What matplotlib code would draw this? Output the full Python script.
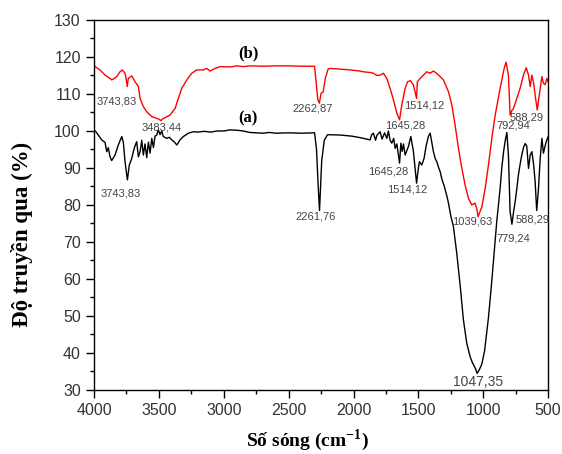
import matplotlib
matplotlib.use("Agg")
import matplotlib.pyplot as plt
from matplotlib.ticker import MultipleLocator

plt.rcParams['font.family'] = ['Liberation Sans', 'DejaVu Sans']
plt.rcParams['mathtext.fontset'] = 'custom'
plt.rcParams['mathtext.rm'] = 'Liberation Serif'
plt.rcParams['mathtext.bf'] = 'Liberation Serif:bold'

# spectrum (a) - wavenumber (cm-1) and transmittance (%)
wn_a = [4000, 3990, 3967, 3941, 3915, 3902, 3890, 3877, 3864, 3850, 3838, 3813,
        3786, 3774, 3761, 3743, 3728, 3709, 3697, 3684, 3671, 3658, 3645, 3632,
        3620, 3607, 3594, 3581, 3568, 3555, 3542, 3530, 3517, 3504, 3491, 3478,
        3466, 3440, 3420, 3401, 3380, 3362, 3337, 3311, 3273, 3234, 3200, 3150,
        3100, 3050, 3000, 2950, 2900, 2850, 2800, 2750, 2700, 2650, 2600, 2500,
        2400, 2300, 2285, 2272, 2262, 2255, 2245, 2225, 2200, 2100, 2013, 1949,
        1900, 1872, 1860, 1847, 1830, 1820, 1795, 1780, 1760, 1743, 1731, 1718,
        1705, 1690, 1679, 1666, 1645, 1635, 1625, 1615, 1602, 1577, 1558, 1538,
        1514, 1500, 1492, 1474, 1456, 1440, 1423, 1409, 1395, 1384, 1370, 1358,
        1345, 1332, 1319, 1300, 1281, 1268, 1250, 1230, 1204, 1178, 1153, 1127,
        1101, 1085, 1070, 1060, 1047, 1030, 1011, 990, 973, 960, 947, 934, 921,
        908, 896, 883, 870, 857, 843, 831, 818, 806, 793, 779, 767, 754, 741,
        729, 716, 703, 690, 677, 665, 651, 638, 625, 612, 600, 588, 575, 561,
        548, 536, 523, 510, 500]
tr_a = [100.0, 100.0, 98.9, 97.6, 96.9, 94.4, 95.5, 93.1, 92.0, 92.8, 93.5, 96.2,
        98.5, 96.9, 91.7, 86.8, 90.8, 92.6, 94.4, 96.0, 97.1, 93.0, 94.4, 97.5,
        93.5, 96.5, 92.8, 97.0, 94.0, 98.0, 95.5, 98.6, 98.9, 100.3, 99.0, 100.0,
        98.5, 98.0, 98.3, 97.6, 97.0, 96.2, 97.6, 98.5, 99.4, 99.8, 99.7, 99.9,
        99.7, 100.0, 100.0, 100.3, 100.2, 100.0, 99.6, 99.5, 99.4, 99.6, 99.4, 99.5,
        99.4, 99.5, 95.0, 85.0, 78.5, 84.0, 92.0, 97.5, 99.0, 98.9, 98.6, 98.2,
        97.8, 97.6, 99.0, 99.4, 97.5, 98.8, 99.8, 97.8, 99.5, 98.0, 100.0, 97.5,
        96.7, 98.0, 95.3, 96.5, 91.3, 96.7, 94.5, 96.5, 93.5, 95.8, 98.5, 94.4,
        85.9, 90.0, 91.7, 90.8, 92.6, 96.0, 98.5, 99.4, 96.5, 94.4, 92.5, 91.7,
        90.2, 89.0, 87.0, 85.0, 82.5, 80.5, 77.0, 74.2, 66.9, 58.3, 49.0, 42.6,
        39.0, 37.5, 36.5, 35.8, 34.5, 35.5, 37.0, 40.5, 45.5, 49.5, 54.5, 59.5, 65.0,
        70.5, 75.5, 80.0, 84.5, 90.0, 94.5, 97.3, 99.6, 93.5, 78.2, 74.8, 78.0,
        80.9, 84.5, 88.1, 91.0, 93.5, 95.5, 96.6, 96.0, 89.9, 93.5, 94.4, 91.0,
        86.3, 78.5, 84.0, 92.6, 98.0, 94.0, 96.0, 97.6, 98.4]

# spectrum (b)
wn_b = [4000, 3992, 3954, 3915, 3877, 3864, 3845, 3825, 3800, 3782, 3761, 3752,
        3744, 3736, 3709, 3684, 3658, 3645, 3620, 3594, 3555, 3517, 3500, 3483,
        3470, 3453, 3414, 3375, 3350, 3324, 3285, 3247, 3208, 3157, 3131, 3106,
        3067, 3029, 2950, 2900, 2850, 2800, 2700, 2600, 2500, 2400, 2300, 2285,
        2275, 2263, 2250, 2235, 2215, 2195, 2180, 2100, 2026, 1950, 1924, 1870,
        1847, 1820, 1795, 1770, 1743, 1718, 1692, 1666, 1645, 1628, 1602, 1584,
        1560, 1538, 1514, 1508, 1487, 1461, 1435, 1410, 1384, 1360, 1332, 1307,
        1268, 1242, 1217, 1191, 1165, 1140, 1114, 1088, 1063, 1050, 1040, 1011,
        985, 960, 934, 908, 870, 839, 824, 806, 793, 780, 767, 741, 716, 690,
        669, 651, 638, 625, 612, 600, 584, 561, 548, 536, 523, 510, 500]
tr_b = [118.0, 117.4, 116.5, 115.1, 114.2, 113.8, 114.2, 114.7, 116.0, 116.5, 115.6, 114.0,
        112.0, 114.2, 114.9, 113.3, 112.0, 108.8, 106.6, 105.2, 103.9, 103.4, 103.2, 102.8,
        103.3, 103.6, 104.3, 106.1, 108.8, 111.5, 113.8, 115.6, 116.5, 116.5, 116.9, 116.2,
        116.9, 117.4, 117.3, 117.6, 117.4, 117.6, 117.5, 117.6, 117.6, 117.5, 117.5, 112.0,
        108.5, 107.5, 110.2, 110.5, 114.5, 116.8, 116.9, 116.7, 116.5, 116.2, 116.0, 115.8,
        115.6, 115.0, 115.1, 115.6, 114.2, 111.5, 108.4, 104.8, 103.0, 107.0, 111.5, 113.3,
        113.6, 112.4, 108.8, 113.3, 114.2, 115.1, 116.0, 115.6, 116.2, 115.6, 114.7, 113.8,
        110.6, 107.0, 101.6, 95.3, 89.9, 85.4, 81.8, 80.0, 80.5, 79.0, 76.8, 79.5,
        84.5, 90.8, 98.0, 104.3, 111.5, 116.9, 118.6, 115.1, 104.3, 105.5, 106.1, 108.8,
        111.5, 115.1, 117.1, 115.1, 112.0, 115.1, 113.0, 109.7, 105.7, 111.5, 114.7, 112.9,
        112.5, 114.2, 113.3]

# peak labels: text, x, y
peaks_b = [("3743,83", 3823, 107.9), ("3483,44", 3478, 100.9),
           ("2262,87", 2313, 106.2), ("1645,28", 1602, 101.6),
           ("1514,12", 1452, 107.0), ("1039,63", 1082, 75.5),
           ("792,94", 767, 101.4), ("588,29", 664, 103.7)]
peaks_a = [("3743,83", 3793, 83.2), ("2261,76", 2292, 76.8),
           ("1645,28", 1731, 89.0), ("1514,12", 1583, 84.1),
           ("779,24", 767, 71.0), ("588,29", 620, 76.0)]

fig = plt.figure(figsize=(5.62, 4.54), dpi=100)
ax = fig.add_axes([0.1673, 0.141, 0.808, 0.815])

ax.plot(wn_a, tr_a, color='black', lw=1.0)
ax.plot(wn_b, tr_b, color='#ff0000', lw=1.0)

for txt, x, y in peaks_b + peaks_a:
    ax.text(x, y, txt, fontsize=8, color='#444444', ha='center', va='center')
ax.text(1037, 32.2, "1047,35", fontsize=10, color='#444444', ha='center', va='center')

serif_bold = dict(family='Liberation Serif', weight='bold')
ax.text(2813, 121.0, "(b)", fontsize=12, ha='center', va='center', **serif_bold)
ax.text(2813, 103.5, "(a)", fontsize=12, ha='center', va='center', **serif_bold)

ax.set_xlim(4000, 500)
ax.set_ylim(30, 130)
ax.xaxis.set_major_locator(MultipleLocator(500))
ax.xaxis.set_minor_locator(MultipleLocator(250))
ax.yaxis.set_major_locator(MultipleLocator(10))
ax.yaxis.set_minor_locator(MultipleLocator(5))
ax.tick_params(which='both', direction='out', top=False, right=False, width=1,
               labelsize=11.5, labelcolor='#333333')
ax.tick_params(which='major', length=6)
ax.tick_params(which='minor', length=3)

for s in ax.spines.values():
    s.set_linewidth(1.0)

ax.set_xlabel(r"Số sóng (cm$^{\mathbf{-1}}$)", fontsize=14, **serif_bold)
ax.set_ylabel("Độ truyền qua (%)", fontsize=16.5, **serif_bold)
ax.xaxis.set_label_coords(0.47, -0.1)
ax.yaxis.set_label_coords(-0.135, 0.42)

fig.savefig("out.png", dpi=100)
